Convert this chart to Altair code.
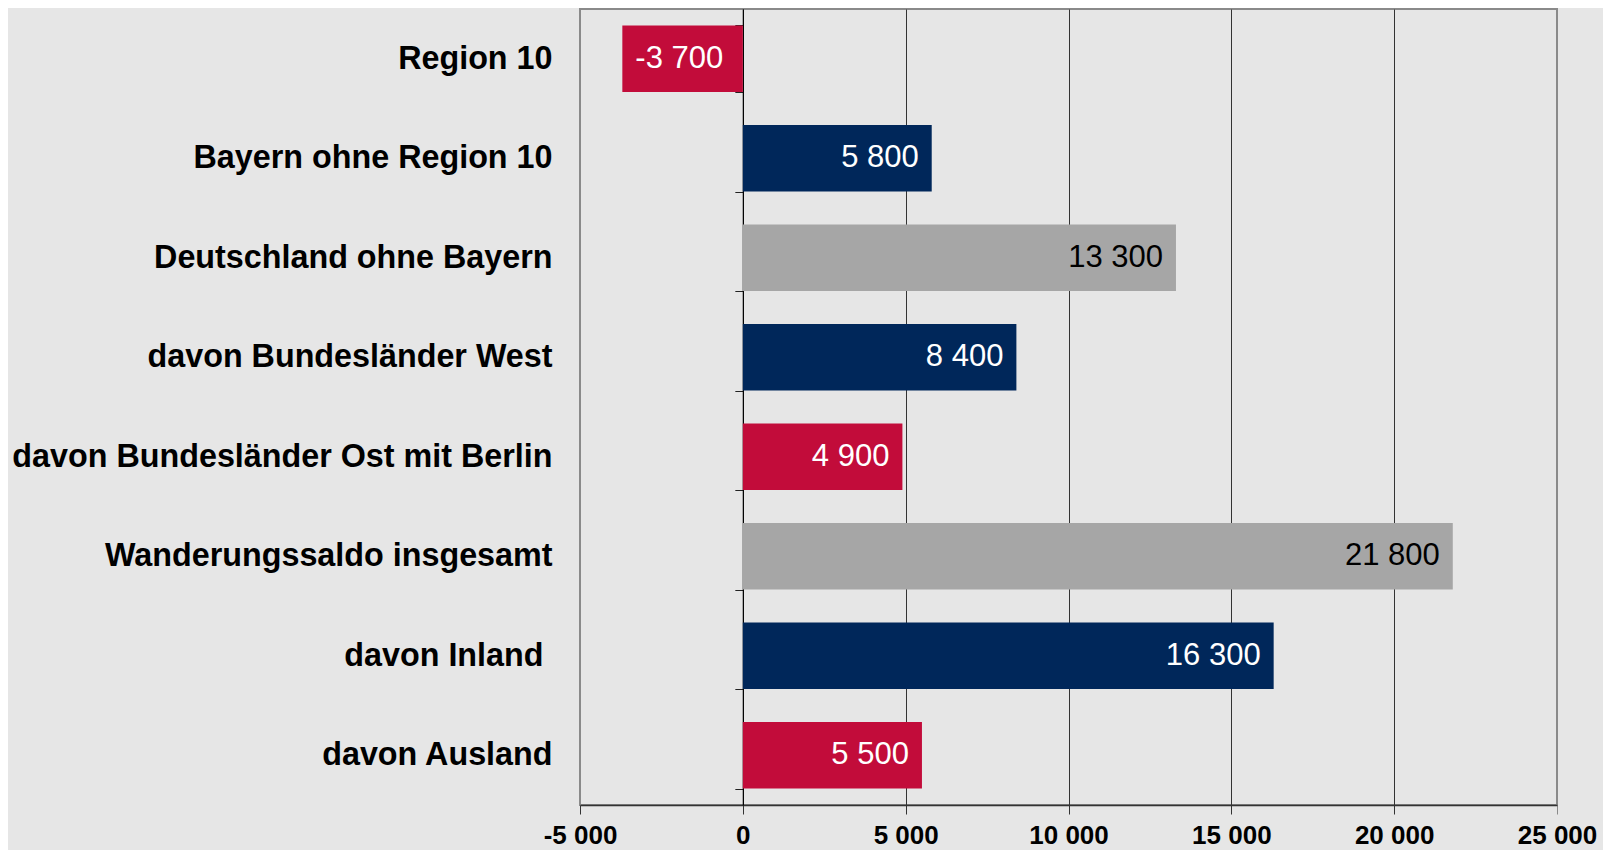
import altair as alt
import pandas as pd

categories = [
    "Region 10",
    "Bayern ohne Region 10",
    "Deutschland ohne Bayern",
    "davon Bundesländer West",
    "davon Bundesländer Ost mit Berlin",
    "Wanderungssaldo insgesamt",
    "davon Inland",
    "davon Ausland",
]
values = [-3700, 5800, 13300, 8400, 4900, 21800, 16300, 5500]
kinds = ["rot", "blau", "grau", "blau", "rot", "grau", "blau", "rot"]

kind_domain = ["rot", "blau", "grau"]
kind_colors = ["#C20C3A", "#00275A", "#A6A6A6"]
text_colors = ["white", "white", "black"]

df = pd.DataFrame({"cat": categories, "v": values, "kind": kinds})
df["lbl"] = [("-" if v < 0 else "") + f"{abs(v):,}".replace(",", " ") for v in values]

W, H = 977, 796
FONT = "Liberation Sans"

y_enc_main = alt.Y(
    "cat:N", sort=categories, title=None,
    scale=alt.Scale(paddingInner=0.33, paddingOuter=0.165),
    axis=alt.Axis(orient="left", ticks=False, domain=False, labelFont=FONT,
                  labelFontSize=32.3, labelFontWeight="bold", labelColor="black",
                  labelPadding=alt.expr("datum.value == 'davon Inland' ? 37 : 28"),
                  labelLimit=600),
)
x_enc = alt.X(
    "v:Q", title=None,
    scale=alt.Scale(domain=[-5000, 25000], nice=False, zero=False),
    axis=alt.Axis(values=[-5000, 0, 5000, 10000, 15000, 20000, 25000],
                  labelExpr="(datum.value < 0 ? '-' : '') + replace(format(abs(datum.value), ',.0f'), ',', ' ')",
                  labelFont=FONT, labelFontSize=26, labelFontWeight="bold", labelColor="black",
                  labelPadding=8, tickSize=9,
                  tickColor=alt.expr("datum.value == 25000 ? '#8A8A8A' : '#333333'"),
                  domainColor="#333333", domainWidth=1.5, grid=True,
                  gridColor=alt.expr("(datum.value == 25000 || datum.value == -5000) ? '#8A8A8A' : '#333333'"),
                  gridWidth=1, labelFlush=False),
)

base = alt.Chart(df)

bars = base.mark_bar(cornerRadius=0).encode(
    y=y_enc_main,
    x=x_enc,
    x2=alt.datum(0),
    color=alt.Color("kind:N", scale=alt.Scale(domain=kind_domain, range=kind_colors), legend=None),
)

y_enc_ticks = alt.Y(
    "cat:N", sort=categories, title=None,
    scale=alt.Scale(paddingInner=0.33, paddingOuter=0.165),
    axis=alt.Axis(orient="left", labels=False, ticks=True, tickBand="extent", tickSize=8,
                  tickColor="#222222", domain=True, domainColor="black", domainWidth=1.2,
                  offset=-W / 6, grid=False),
)

txt_color = alt.Color("kind:N", scale=alt.Scale(domain=kind_domain, range=text_colors), legend=None)

pos_text = base.transform_filter("datum.v >= 0").mark_text(
    align="right", baseline="middle", dx=-13, font=FONT, fontSize=31
).encode(y=y_enc_ticks, x=alt.X("v:Q"), text="lbl:N", color=txt_color)

neg_text = base.transform_filter("datum.v < 0").mark_text(
    align="left", baseline="middle", dx=13, font=FONT, fontSize=31
).encode(y=alt.Y("cat:N", sort=categories, axis=None), x=alt.X("v:Q"), text="lbl:N", color=txt_color)

chart = alt.layer(bars, pos_text, neg_text).resolve_axis(y="independent").resolve_scale(
    color="independent"
).properties(
    width=W, height=H, background="#E6E6E6",
    padding={"left": 572, "top": 1, "right": 46, "bottom": 50},
    autosize=alt.AutoSizeParams(type="none"),
).configure_view(stroke="#8A8A8A", strokeWidth=2)

chart.save("out.html", embed_options={"renderer": "svg", "actions": False})
